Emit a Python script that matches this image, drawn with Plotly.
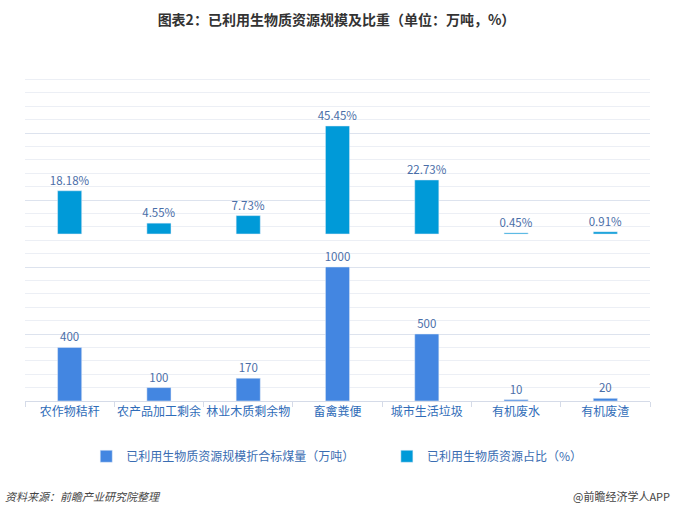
import plotly.graph_objects as go

categories = ["农作物秸秆", "农产品加工剩余", "林业木质剩余物", "畜禽粪便", "城市生活垃圾", "有机废水", "有机废渣"]
scale_values = [400, 100, 170, 1000, 500, 10, 20]
share_values = [18.18, 4.55, 7.73, 45.45, 22.73, 0.45, 0.91]
share_labels = ["18.18%", "4.55%", "7.73%", "45.45%", "22.73%", "0.45%", "0.91%"]
scale_name = "已利用生物质资源规模折合标煤量（万吨）"
share_name = "已利用生物质资源占比（%）"

FONT = "Noto Sans CJK SC"
label_color = "#4a6ea8"

fig = go.Figure()
fig.add_trace(go.Bar(
    x=categories, y=scale_values, name=scale_name,
    marker_color="#4386e1", width=0.27,
    text=[str(v) for v in scale_values], textposition="outside",
    constraintext="none",
    textfont=dict(size=11.5, color=label_color, family=FONT),
    cliponaxis=False, yaxis="y", offsetgroup="a", legend="legend",
))
fig.add_trace(go.Bar(
    x=categories, y=share_values, name=share_name,
    marker_color="#009ad8", width=0.27,
    text=share_labels, textposition="outside",
    constraintext="none",
    textfont=dict(size=11.5, color=label_color, family=FONT),
    cliponaxis=False, yaxis="y2", offsetgroup="a", legend="legend2",
))

legend_style = dict(
    orientation="h", xanchor="left", y=-0.165, yanchor="middle",
    font=dict(size=12, color="#3a6db2", family=FONT), itemwidth=30,
    bgcolor="rgba(0,0,0,0)",
)

fig.update_layout(
    width=673, height=517,
    margin=dict(l=25, r=23, t=66, b=116),
    paper_bgcolor="white", plot_bgcolor="white",
    font=dict(family=FONT, size=12, color="#333"),
    barmode="overlay",
    showlegend=True,
    title=dict(text="<b>图表2：已利用生物质资源规模及比重（单位：万吨，%）</b>",
               x=0.5, xanchor="center", y=0.962, yanchor="middle",
               font=dict(size=14, color="#333", family=FONT)),
    xaxis=dict(
        showgrid=False, showline=True, linecolor="#d5dbe8", linewidth=1,
        ticks="outside", tickson="boundaries", ticklen=5, tickcolor="#d5dbe8",
        tickangle=0,
        tickfont=dict(size=12, color="#2f6cb8", family=FONT),
    ),
    yaxis=dict(
        range=[0, 2500], showticklabels=False, zeroline=False,
        showgrid=True, dtick=500, gridcolor="#dde3ee", gridwidth=1,
        minor=dict(dtick=100, showgrid=True, gridcolor="#eceff5", gridwidth=1),
    ),
    yaxis2=dict(
        range=[-70.3, 70.7], overlaying="y", showticklabels=False,
        showgrid=False, zeroline=False,
    ),
    legend=dict(x=0.098, **legend_style),
    legend2=dict(x=0.579, **legend_style),
    annotations=[
        dict(text="<i>资料来源：前瞻产业研究院整理</i>", xref="paper", yref="paper",
             x=-0.035, y=-0.285, xanchor="left", yanchor="middle", showarrow=False,
             font=dict(size=11, color="#444", family=FONT)),
        dict(text="@前瞻经济学人APP", xref="paper", yref="paper",
             x=1.035, y=-0.285, xanchor="right", yanchor="middle", showarrow=False,
             font=dict(size=11, color="#444", family=FONT)),
    ],
)

fig.write_html("out.html")
